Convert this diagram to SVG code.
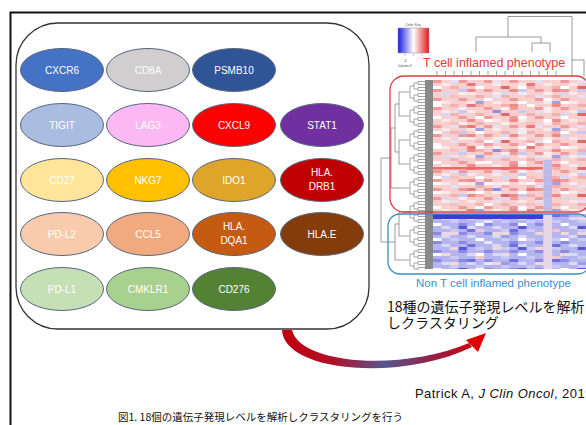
<svg xmlns="http://www.w3.org/2000/svg" width="586" height="425" viewBox="0 0 586 425">
<style>
.g ellipse{stroke:#56657f;stroke-width:1}
.g text{font-family:"Liberation Sans",Arial,sans-serif;font-size:10px;fill:#fff;text-anchor:middle}
.jp{font-family:"Noto Sans CJK JP","Liberation Sans",sans-serif;fill:#111}
.dg{fill:none;stroke:#808080;stroke-width:0.8}
</style>
<defs>
<linearGradient id="key" x1="0" x2="1" y1="0" y2="0">
<stop offset="0" stop-color="#1a1ae0"/><stop offset="0.5" stop-color="#ffffff"/><stop offset="1" stop-color="#e01a1a"/>
</linearGradient>
<linearGradient id="arr" gradientUnits="userSpaceOnUse" x1="282" y1="0" x2="486" y2="0">
<stop offset="0" stop-color="#c00010"/><stop offset="0.25" stop-color="#b01028"/><stop offset="0.5" stop-color="#55558f"/><stop offset="0.78" stop-color="#a01838"/><stop offset="1" stop-color="#e00000"/>
</linearGradient>
<pattern id="pR1" patternUnits="userSpaceOnUse" x="433" y="80" width="25.5" height="9">
<rect x="0" y="0" width="8.5" height="3" fill="#ee9a9a"/><rect x="8.5" y="3" width="8.5" height="3" fill="#fbe8e8"/><rect x="17" y="6" width="8.5" height="3" fill="#f2b0b0"/>
</pattern>
<pattern id="pR2" patternUnits="userSpaceOnUse" x="433" y="80" width="42.5" height="15">
<rect x="0" y="6" width="8.5" height="3" fill="#ffffff"/><rect x="17" y="0" width="8.5" height="3" fill="#e6e0f4"/><rect x="34" y="9" width="8.5" height="3" fill="#f08888"/><rect x="25.5" y="12" width="8.5" height="3" fill="#fceeee"/>
</pattern>
<pattern id="pR3" patternUnits="userSpaceOnUse" x="433" y="80" width="59.5" height="21">
<rect x="8.5" y="12" width="8.5" height="3" fill="#d8d8f2"/><rect x="34" y="3" width="8.5" height="3" fill="#e87878"/><rect x="51" y="18" width="8.5" height="3" fill="#ffffff"/><rect x="25.5" y="9" width="8.5" height="3" fill="#c8c8f0"/>
</pattern>
<pattern id="pR4" patternUnits="userSpaceOnUse" x="433" y="80" width="76.5" height="27">
<rect x="42.5" y="21" width="8.5" height="3" fill="#a0a0e6"/><rect x="17" y="15" width="8.5" height="3" fill="#f6c0c0"/><rect x="68" y="6" width="8.5" height="3" fill="#e06868"/>
</pattern>
<pattern id="pR5" patternUnits="userSpaceOnUse" x="433" y="80" width="93.5" height="39">
<rect x="59.5" y="30" width="8.5" height="3" fill="#8c8ce0"/><rect x="0" y="24" width="8.5" height="3" fill="#ffffff"/><rect x="85" y="12" width="8.5" height="3" fill="#eeeefa"/>
</pattern>
<pattern id="pB1" patternUnits="userSpaceOnUse" x="433" y="214" width="25.5" height="9">
<rect x="0" y="0" width="8.5" height="3" fill="#8a8ae4"/><rect x="8.5" y="3" width="8.5" height="3" fill="#dadaf6"/><rect x="17" y="6" width="8.5" height="3" fill="#cacaf2"/>
</pattern>
<pattern id="pB2" patternUnits="userSpaceOnUse" x="433" y="214" width="42.5" height="15">
<rect x="0" y="9" width="8.5" height="3" fill="#ffffff"/><rect x="17" y="3" width="8.5" height="3" fill="#f2d6de"/><rect x="34" y="0" width="8.5" height="3" fill="#7070dc"/>
</pattern>
<pattern id="pB3" patternUnits="userSpaceOnUse" x="433" y="214" width="59.5" height="21">
<rect x="25.5" y="12" width="8.5" height="3" fill="#5656d6"/><rect x="8.5" y="18" width="8.5" height="3" fill="#eedada"/><rect x="51" y="6" width="8.5" height="3" fill="#e8e8fa"/>
</pattern>
<pattern id="pB4" patternUnits="userSpaceOnUse" x="433" y="214" width="76.5" height="27">
<rect x="42.5" y="15" width="8.5" height="3" fill="#f4c8c8"/><rect x="68" y="21" width="8.5" height="3" fill="#9c9ce8"/>
</pattern>
<pattern id="pLeaf" patternUnits="userSpaceOnUse" x="405" y="80" width="20" height="24">
<path fill="none" stroke="#808080" stroke-width="0.7" d="M13 1.5H20M13 4.5H20M13 7.5H20M13 10.5H20M13 13.5H20M13 16.5H20M13 19.5H20M13 22.5H20M13 1.5V4.5M13 7.5V10.5M13 13.5V16.5M13 19.5V22.5M9 3H13M9 9H13M9 15H13M9 21H13M9 3V9M9 15V21M5 6H9M5 18H9M5 6V18M0 12H5"/>
</pattern>
</defs>

<rect x="10.5" y="12.5" width="600" height="450" fill="#fff" stroke="#111" stroke-width="2"/>

<!-- gene panel -->
<rect id="panel" x="16" y="23" width="353" height="306" rx="42" ry="42" fill="#fff" stroke="#333" stroke-width="1.3"/>

<g id="CXCR6" class="g"><ellipse cx="62" cy="70" rx="41.5" ry="21.5" fill="#4472c4"/><text x="62" y="73.6">CXCR6</text></g>
<g id="CD8A" class="g"><ellipse cx="148" cy="70" rx="41.5" ry="21.5" fill="#d0cece"/><text x="148" y="73.6">CD8A</text></g>
<g id="PSMB10" class="g"><ellipse cx="234" cy="70" rx="41.5" ry="21.5" fill="#2f5597"/><text x="234" y="73.6">PSMB10</text></g>

<g id="TIGIT" class="g"><ellipse cx="62" cy="125" rx="41.5" ry="21.5" fill="#a9bde0"/><text x="62" y="128.6">TIGIT</text></g>
<g id="LAG3" class="g"><ellipse cx="148" cy="125" rx="41.5" ry="21.5" fill="#fbb8f2"/><text x="148" y="128.6">LAG3</text></g>
<g id="CXCL9" class="g"><ellipse cx="234" cy="125" rx="41.5" ry="21.5" fill="#ff0000"/><text x="234" y="128.6">CXCL9</text></g>
<g id="STAT1" class="g"><ellipse cx="322" cy="125" rx="41.5" ry="21.5" fill="#7030a0"/><text x="322" y="128.6">STAT1</text></g>

<g id="CD27" class="g"><ellipse cx="62" cy="180" rx="41.5" ry="21.5" fill="#ffe49a"/><text x="62" y="183.6">CD27</text></g>
<g id="NKG7" class="g"><ellipse cx="148" cy="180" rx="41.5" ry="21.5" fill="#ffc000"/><text x="148" y="183.6">NKG7</text></g>
<g id="IDO1" class="g"><ellipse cx="234" cy="180" rx="41.5" ry="21.5" fill="#dfa52a"/><text x="234" y="183.6">IDO1</text></g>
<g id="HLA.DRB1" class="g"><ellipse cx="322" cy="180" rx="41.5" ry="21.5" fill="#c00000"/><text x="322" y="176.2">HLA.</text><text x="322" y="190.4">DRB1</text></g>

<g id="PD-L2" class="g"><ellipse cx="62" cy="234" rx="41.5" ry="21.5" fill="#f8cbad"/><text x="62" y="237.6">PD-L2</text></g>
<g id="CCL5" class="g"><ellipse cx="148" cy="234" rx="41.5" ry="21.5" fill="#f1aa7e"/><text x="148" y="237.6">CCL5</text></g>
<g id="HLA.DQA1" class="g"><ellipse cx="234" cy="234" rx="41.5" ry="21.5" fill="#c55a11"/><text x="234" y="230.2">HLA.</text><text x="234" y="244.4">DQA1</text></g>
<g id="HLA.E" class="g"><ellipse cx="322" cy="234" rx="41.5" ry="21.5" fill="#843c0c"/><text x="322" y="237.6">HLA.E</text></g>

<g id="PD-L1" class="g"><ellipse cx="62" cy="289" rx="41.5" ry="21.5" fill="#c5e0b4"/><text x="62" y="292.6">PD-L1</text></g>
<g id="CMKLR1" class="g"><ellipse cx="148" cy="289" rx="41.5" ry="21.5" fill="#a9d18e"/><text x="148" y="292.6">CMKLR1</text></g>
<g id="CD276" class="g"><ellipse cx="234" cy="289" rx="41.5" ry="21.5" fill="#548235"/><text x="234" y="292.6">CD276</text></g>

<!-- heatmap -->
<g id="heatmap">
<rect x="433" y="80" width="155" height="131" fill="#f7cfcf"/>
<rect x="433" y="80" width="155" height="131" fill="url(#pR1)"/>
<rect x="433" y="80" width="155" height="131" fill="url(#pR2)"/>
<rect x="433" y="80" width="155" height="131" fill="url(#pR3)"/>
<rect x="433" y="80" width="155" height="131" fill="url(#pR4)"/>
<rect x="433" y="80" width="155" height="131" fill="url(#pR5)"/>
<rect x="433" y="167" width="110" height="2.5" fill="#ee6a6a"/>
<rect x="543.5" y="160" width="8.5" height="51" fill="#b4b4ea" opacity="0.85"/>
<rect x="433" y="214" width="155" height="55" fill="#b4b4ee"/>
<rect x="433" y="214" width="155" height="55" fill="url(#pB1)"/>
<rect x="433" y="214" width="155" height="55" fill="url(#pB2)"/>
<rect x="433" y="214" width="155" height="55" fill="url(#pB3)"/>
<rect x="433" y="214" width="155" height="55" fill="url(#pB4)"/>
<rect x="433" y="214" width="110" height="5" fill="#3c3cd8"/>
<rect x="543.5" y="214" width="8.5" height="55" fill="#e6d6e6"/>
<rect x="425" y="80" width="8" height="189" fill="#8a8a8a"/>
<rect x="405" y="80" width="20" height="190" fill="url(#pLeaf)"/>
<path class="dg" d="M405 92H399V116H405M399 104H395M405 140H399V164H405M399 152H395M395 104V152M395 128H391M405 188H391M391 128V188M391 158H381M405 212H399V236H405M399 224H395M405 260H395M395 224V260M395 242H381M381 158V242"/>
<path class="dg" d="M508 16.5H572M508 16.5V37M476 37H541M476 37V52M541 37V43M532 43H550M532 43V52M550 43V52M572 16.5V60M572 60H584M572 60V76M584 60V76"/>
<path fill="none" stroke="#8a8a8a" stroke-width="0.8" d="M437 71V75M445.5 71V75M454 71V75M462.5 71V75M471 71V75M479.5 71V75M488 71V75M496.5 71V75M505 71V75M513.5 71V75M522 71V75M530.5 71V75M539 71V75M547.5 71V75M556 71V75"/>
<rect x="398" y="28" width="31" height="25" fill="url(#key)" stroke="#999" stroke-width="0.5"/>
<text x="413" y="25.5" font-family="Liberation Sans,sans-serif" font-size="3.5" fill="#555" text-anchor="middle">Color Key</text>
<path fill="none" stroke="#777" stroke-width="0.4" d="M405 53V56M413.5 53V56M422 53V56"/>
<text x="405" y="62" font-family="Liberation Sans,sans-serif" font-size="3.5" fill="#444" text-anchor="middle">-2</text>
<text x="398" y="67" font-family="Liberation Sans,sans-serif" font-size="3.2" fill="#444">Column Z</text>
<rect x="390" y="76" width="200" height="136" rx="14" ry="14" fill="none" stroke="#e03a40" stroke-width="1.3"/>
<rect x="388" y="214" width="202" height="60" rx="12" ry="12" fill="none" stroke="#3c8dc8" stroke-width="1.3"/>
<text x="423" y="67" font-family="Liberation Sans,Arial,sans-serif" font-size="12.5" fill="#e8383d">T cell inflamed phenotype</text>
<text x="416" y="287" font-family="Liberation Sans,Arial,sans-serif" font-size="11.5" fill="#3a8fcc">Non T cell inflamed phenotype</text>
</g>

<g id="connectors">
<path d="M282 330C284 372 400 382 472 347L469 343C400 372 300 364 292 330Z" fill="url(#arr)"/>
<polygon points="486,333 466,340 478,352" fill="#e00000"/>
</g>

<text class="jp" x="387" y="311.5" font-size="14">18種の遺伝子発現レベルを解析</text>
<text class="jp" x="387" y="328" font-size="14">しクラスタリング</text>
<text x="415" y="398" font-family="Liberation Sans,Arial,sans-serif" font-size="13" letter-spacing="0.45" fill="#111">Patrick A, <tspan font-style="italic">J Clin Oncol</tspan>, 2019</text>
<text class="jp" x="118" y="421" font-size="10.5">図1. 18個の遺伝子発現レベルを解析しクラスタリングを行う</text>
</svg>
